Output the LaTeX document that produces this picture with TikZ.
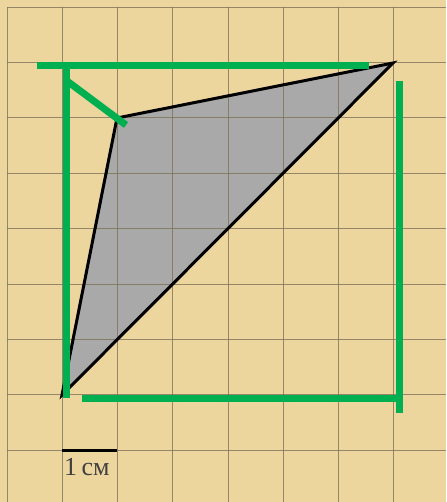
\documentclass[tikz,border=0pt]{standalone}
\usepackage{fontspec}
\setmainfont{Liberation Serif}
\definecolor{parch}{HTML}{EDD69E}
\definecolor{gridc}{HTML}{7E725A}
\definecolor{tri}{HTML}{A9A9A9}
\definecolor{grn}{HTML}{00B050}
\tikzset{
  gridline/.style={draw=gridc, line width=0.8pt, opacity=0.8},
  greenline/.style={draw=grn, line width=7pt},
  trifill/.style={fill=tri},
  triedge/.style={draw=black, line width=3pt, line join=miter},
}
\begin{document}
\begin{tikzpicture}[x=1pt,y=-1pt]
\useasboundingbox (0,0) rectangle (446,502);
\fill[parch] (0,0) rectangle (446,502);
% triangle
\coordinate (A) at (62,395);
\coordinate (B) at (117,118);
\coordinate (C) at (393,63);
\fill[trifill] (A) -- (B) -- (C) -- cycle;
% grid
\foreach \k in {0,...,7} {
  \draw[gridline] ({7+55.25*\k},7) -- ({7+55.25*\k},502);
}
\draw[gridline] (7,7) -- (446,7);
\foreach \k in {1,...,8} {
  \draw[gridline] (7,{7+55.4*\k}) -- (446,{7+55.4*\k});
}
\draw[triedge] (A) -- (B) -- (C) -- cycle;
% green lines
\coordinate (t1) at (37,66);
\coordinate (t2) at (369,66);
\coordinate (l1) at (66.5,62.5);
\coordinate (l2) at (66.5,398);
\coordinate (d1) at (67,81);
\coordinate (d2) at (126,125);
\coordinate (r1) at (399,81);
\coordinate (r2) at (399,413);
\coordinate (b1) at (82,398);
\coordinate (b2) at (402.5,398);
\draw[greenline] (t1) -- (t2);
\draw[greenline] (l1) -- (l2);
\draw[greenline] (d1) -- (d2);
\draw[greenline] (r1) -- (r2);
\draw[greenline] (b1) -- (b2);
% scale bar
\coordinate (s1) at (62,450);
\coordinate (s2) at (117,450);
\draw[black, line width=3pt] (s1) -- (s2);
\node[anchor=north west, inner sep=0pt, font=\fontsize{26}{28}\selectfont, text=black!75] (lbl) at (64,458) {1\,см};
\end{tikzpicture}
\end{document}
